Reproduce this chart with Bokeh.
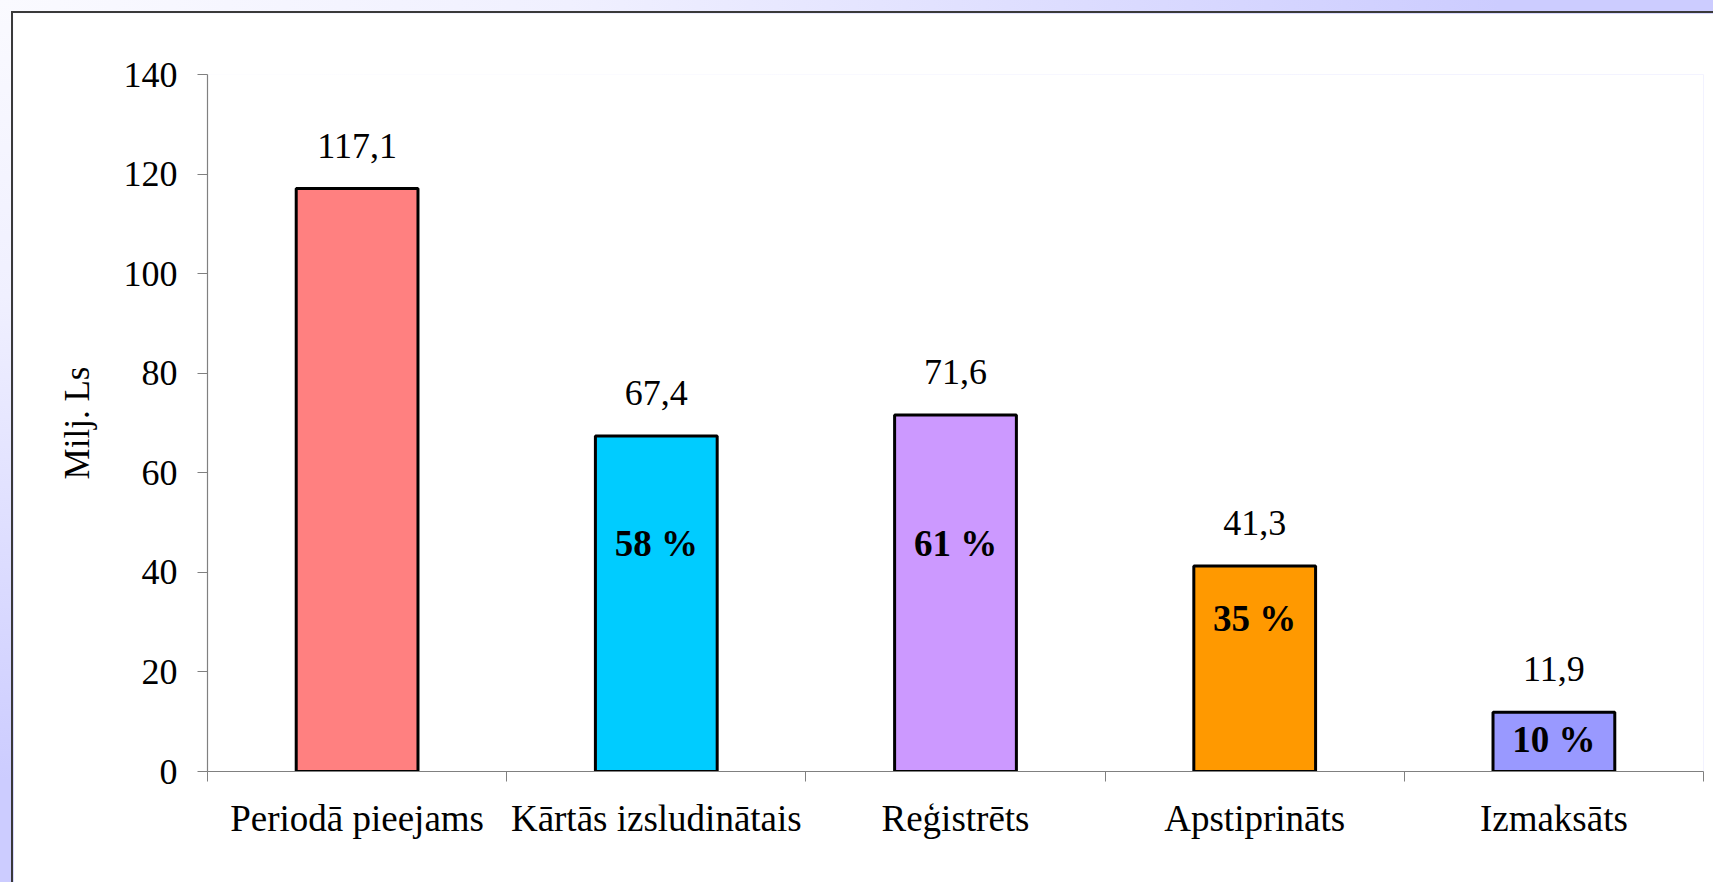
from bokeh.plotting import figure
from bokeh.models import (Range1d, FixedTicker, CustomJSTickFormatter, ColumnDataSource, LinearAxis)
from bokeh.layouts import column
from bokeh.core.properties import value
from bokeh.embed import file_html
from bokeh.resources import INLINE

# ---- data ----
categories = ["Periodā pieejams", "Kārtās izsludinātais", "Reģistrēts", "Apstiprināts", "Izmaksāts"]
values = [117.1, 67.4, 71.6, 41.3, 11.9]
colors = ["#FF8080", "#00CCFF", "#CC99FF", "#FF9900", "#9999FF"]
pct_categories = ["Kārtās izsludinātais", "Reģistrēts", "Apstiprināts", "Izmaksāts"]
pct_values = [58, 61, 35, 10]
pct_label_y = [43.5, 43.5, 28.6, 4.3]
y_ticks = [0, 20, 40, 60, 80, 100, 120, 140]

FONT = "Liberation Serif"

n = len(categories)
xc = [i + 0.5 for i in range(n)]

p = figure(width=1702, height=871, output_backend="svg", toolbar_location=None,
           x_range=Range1d(0, n), y_range=Range1d(0, 140),
           x_axis_location=None, y_axis_location=None,
           min_border_left=194, min_border_right=12, min_border_top=61, min_border_bottom=113,
           background_fill_color="white", border_fill_color="white",
           styles={"border-left": "2px solid #3a3a3a", "border-top": "2px solid #3a3a3a"})
p.outline_line_color = None
p.xgrid.visible = False
p.ygrid.visible = False

# y axis
yax = LinearAxis(ticker=FixedTicker(ticks=y_ticks, minor_ticks=[]))
yax.axis_line_color = "#808080"
yax.axis_line_width = 1.2
yax.major_tick_line_color = "#808080"
yax.major_tick_in = 0
yax.major_tick_out = 10
yax.minor_tick_line_color = None
yax.major_label_text_font = FONT
yax.major_label_text_font_size = "36px"
yax.major_label_text_color = "black"
yax.major_label_standoff = 20
yax.axis_label = "Milj. Ls"
yax.axis_label_text_font = FONT
yax.axis_label_text_font_size = "35px"
yax.axis_label_text_font_style = "normal"
yax.axis_label_text_color = "black"
yax.axis_label_standoff = 24
p.add_layout(yax, "left")

# x axis: labels at category centres, ticks at category boundaries
xax = LinearAxis(ticker=FixedTicker(ticks=xc, minor_ticks=list(range(n + 1))))
xax.formatter = CustomJSTickFormatter(args=dict(cats=categories),
                                      code="return cats[Math.floor(tick)];")
xax.axis_line_color = "#808080"
xax.axis_line_width = 1.2
xax.major_tick_line_color = None
xax.major_tick_in = 0
xax.major_tick_out = 0
xax.minor_tick_line_color = "#808080"
xax.minor_tick_in = 0
xax.minor_tick_out = 10
xax.major_label_text_font = FONT
xax.major_label_text_font_size = "37px"
xax.major_label_text_color = "black"
xax.major_label_standoff = 16
p.add_layout(xax, "below")

src = ColumnDataSource(dict(x=xc, top=values, color=colors,
                            label=[f"{v:.1f}".replace(".", ",") for v in values]))
p.vbar(x="x", top="top", bottom=0, width=0.407, source=src,
       fill_color="color", line_color="black", line_width=3)

p.text(x="x", y="top", text="label", source=src,
       text_font=value(FONT), text_font_size="36px", text_color="black",
       text_align="center", text_baseline="alphabetic", y_offset=-43)

pidx = [categories.index(c) for c in pct_categories]
psrc = ColumnDataSource(dict(x=[xc[i] for i in pidx], y=pct_label_y,
                             label=[f"{v} %" for v in pct_values]))
p.text(x="x", y="y", text="label", source=psrc,
       text_font=value(FONT), text_font_size="37px", text_font_style="bold",
       text_color="black", text_align="center", text_baseline="alphabetic", y_offset=-11)

layout = column(p, styles={
    "background": "radial-gradient(ellipse 1500px 780px at 0 0, #fafaff 0%, #f0f0ff 38%, #ccccff 100%)",
    "padding-left": "11px", "padding-top": "11px"})

open("out.html", "w").write(file_html(layout, INLINE))
